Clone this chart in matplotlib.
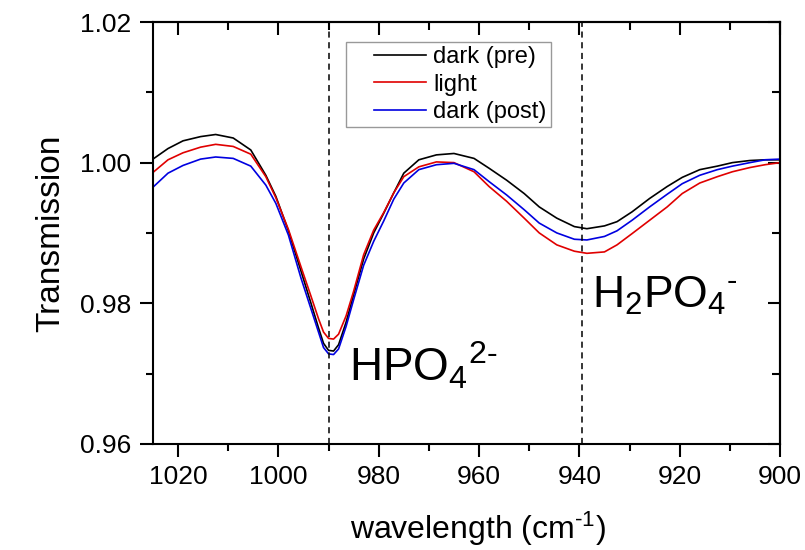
import matplotlib
matplotlib.use("Agg")
import matplotlib.pyplot as plt
from matplotlib.legend_handler import HandlerLine2D
from matplotlib.ticker import MultipleLocator, FormatStrFormatter

plt.rcParams['font.family'] = ['Liberation Sans', 'DejaVu Sans']
plt.rcParams['mathtext.fontset'] = 'custom'
plt.rcParams['mathtext.rm'] = 'Liberation Sans'
plt.rcParams['mathtext.it'] = 'Liberation Sans'

# wavenumber grid (cm-1)
wn = [1025, 1022, 1019, 1015.5, 1012.5, 1009, 1005.5, 1002.5, 1000.5, 998,
      995.5, 993.5, 992, 991, 990, 989, 988, 986.5, 985, 983,
      981, 979, 977, 975, 972, 968.5, 965, 961, 958, 954.5,
      951, 948, 944.5, 941, 938.5, 935, 932.5, 929.5, 926, 922.5,
      919.5, 916, 912.5, 909.5, 906, 903, 900]

dark_pre = [1.0005, 1.0020, 1.0031, 1.0037, 1.0040, 1.0035, 1.0018, 0.9982, 0.9952, 0.9903,
            0.9846, 0.9800, 0.9765, 0.9743, 0.9733, 0.9732, 0.9741, 0.9773, 0.9812, 0.9863,
            0.9900, 0.9928, 0.9957, 0.9985, 1.0004, 1.0011, 1.0013, 1.0006, 0.9992, 0.9975,
            0.9956, 0.9937, 0.9921, 0.9909, 0.9906, 0.9910, 0.9916, 0.9930, 0.9949, 0.9966,
            0.9979, 0.9990, 0.9995, 1.0000, 1.0003, 1.0004, 1.0004]

light = [0.9986, 1.0004, 1.0014, 1.0022, 1.0026, 1.0023, 1.0012, 0.9980, 0.9950, 0.9905,
         0.9852, 0.9810, 0.9778, 0.9759, 0.9750, 0.9749, 0.9756, 0.9782, 0.9817, 0.9869,
         0.9904, 0.9929, 0.9957, 0.9980, 0.9994, 1.0001, 1.0000, 0.9987, 0.9966, 0.9945,
         0.9921, 0.9900, 0.9883, 0.9874, 0.9871, 0.9873, 0.9883, 0.9899, 0.9918, 0.9937,
         0.9956, 0.9971, 0.9980, 0.9987, 0.9993, 0.9997, 1.0000]

dark_post = [0.9965, 0.9985, 0.9996, 1.0005, 1.0008, 1.0006, 0.9995, 0.9968, 0.9942, 0.9897,
             0.9836, 0.9792, 0.9759, 0.9737, 0.9728, 0.9727, 0.9735, 0.9767, 0.9805, 0.9854,
             0.9888, 0.9917, 0.9948, 0.9971, 0.9990, 0.9997, 0.9999, 0.9990, 0.9973, 0.9954,
             0.9933, 0.9914, 0.9900, 0.9891, 0.9890, 0.9895, 0.9903, 0.9918, 0.9937, 0.9955,
             0.9970, 0.9982, 0.9990, 0.9995, 1.0000, 1.0004, 1.0005]

peaks = [990, 939.5]

fig = plt.figure(figsize=(8.05, 5.5), dpi=100)
ax = fig.add_axes([0.190, 0.193, 0.779, 0.767])

ax.plot(wn, dark_pre, color='black', lw=1.2, label='dark (pre)')
ax.plot(wn, light, color='#e00000', lw=1.2, label='light')
ax.plot(wn, dark_post, color='#0000e0', lw=1.2, label='dark (post)')

for p in peaks:
    ax.axvline(p, color='black', ls=(0, (4, 3)), lw=1.1)

ax.set_xlim(1025, 900)
ax.set_ylim(0.96, 1.02)
ax.xaxis.set_major_locator(MultipleLocator(20))
ax.xaxis.set_minor_locator(MultipleLocator(10))
ax.yaxis.set_major_locator(MultipleLocator(0.02))
ax.yaxis.set_minor_locator(MultipleLocator(0.01))
ax.yaxis.set_major_formatter(FormatStrFormatter('%.2f'))

for s in ax.spines.values():
    s.set_linewidth(1.5)
ax.tick_params(which='major', direction='out', length=9.5, width=1.5, labelsize=19, pad=6)
ax.tick_params(which='minor', direction='out', length=5, width=1.5)

# top / right ticks point inwards
top = ax.secondary_xaxis('top')
top.xaxis.set_major_locator(MultipleLocator(20))
top.xaxis.set_minor_locator(MultipleLocator(10))
top.tick_params(which='major', direction='in', length=9, width=1.5, labeltop=False)
top.tick_params(which='minor', direction='in', length=6, width=1.5)
right = ax.secondary_yaxis('right')
right.yaxis.set_major_locator(MultipleLocator(0.02))
right.yaxis.set_minor_locator(MultipleLocator(0.01))
right.tick_params(which='major', direction='in', length=9, width=1.5, labelright=False)
right.tick_params(which='minor', direction='in', length=6, width=1.5)
for sa in (top, right):
    for s in sa.spines.values():
        s.set_linewidth(1.5)

ax.set_xlabel('wavelength (cm$^{\u20101}$)', fontsize=23, labelpad=8)
ax.xaxis.set_label_coords(0.519, -0.155)
ax.set_ylabel('Transmission', fontsize=24, labelpad=10)

ax.text(986, 0.9688, 'HPO$_4$$^{2\u2010}$', fontsize=33, ha='left', va='baseline')
ax.text(937.4, 0.9793, 'H$_2$PO$_4$$^{\u2010}$', fontsize=32, ha='left', va='baseline')

hl = HandlerLine2D(xpad=1.0)
leg = ax.legend(loc='upper left', bbox_to_anchor=(0.308, 0.952), fontsize=17,
                frameon=True, fancybox=False, handlelength=3.2, handletextpad=0.3,
                labelspacing=0.22, borderpad=0.18, borderaxespad=0,
                handler_map={matplotlib.lines.Line2D: hl})
leg.get_frame().set_edgecolor('#808080')
leg.get_frame().set_linewidth(1.0)

fig.savefig('out.png', dpi=100)
